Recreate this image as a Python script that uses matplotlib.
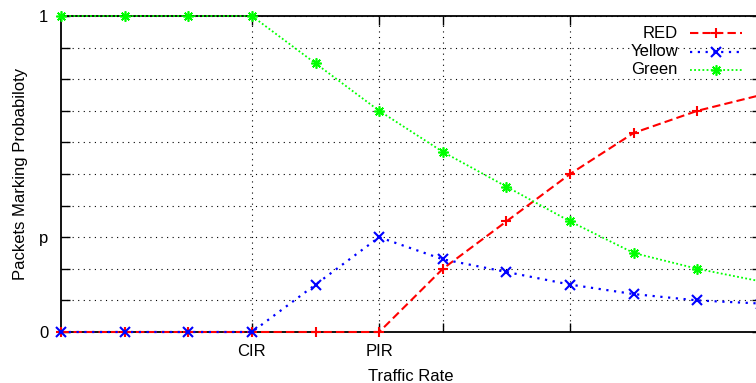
import numpy as np
import matplotlib.pyplot as plt
from matplotlib.lines import Line2D

plt.rcParams['font.family'] = ['Liberation Sans', 'DejaVu Sans']

# traffic rate steps and per-colour marking probability
rate = np.arange(12)
red = [0, 0, 0, 0, 0, 0, 0.20, 0.35, 0.50, 0.63, 0.70, 0.75]
yellow = [0, 0, 0, 0, 0.15, 0.30, 0.23, 0.19, 0.15, 0.12, 0.10, 0.09]
green = [1, 1, 1, 1, 0.85, 0.70, 0.57, 0.46, 0.35, 0.25, 0.20, 0.16]

xticks = [3, 5, 6, 8]
xticklabels = ['CIR', 'PIR', '', '']
yticks = np.arange(0, 1.01, 0.1)
yticklabels = ['0', '', '', 'p', '', '', '', '', '', '', '1']

fig = plt.figure(figsize=(7.56, 3.83), dpi=100)
ax = fig.add_axes([61 / 756, 51 / 383, 700 / 756, 316 / 383])

styles = [
    ('RED', red, '#ff0000', '+', (4, 2), 1.5, 1.5),
    ('Yellow', yellow, '#0000ff', 'x', (1, 2.5), 1.6, 1.5),
    ('Green', green, '#00ff00', (8, 2, 0), (1, 1.3), 1.3, 1.2),
]

for i, (name, vals, col, mk, dash, lw, mew) in enumerate(styles):
    ax.plot(rate, vals, color=col, lw=lw, dashes=dash, marker=mk,
            markersize=7.5, markeredgewidth=mew, clip_on=False, zorder=3 + i)

ax.set_xlim(0, 11)
ax.set_ylim(0, 1)
ax.set_xticks(xticks)
ax.set_xticklabels(xticklabels)
ax.set_yticks(yticks)
ax.set_yticklabels(yticklabels)
ax.tick_params(direction='in', length=6.5, width=1, top=True, right=True,
               labelsize=12, pad=9)
ax.grid(True, color='black', lw=0.8, dashes=(1, 4))
ax.set_axisbelow(True)
for sp in ax.spines.values():
    sp.set_linewidth(1.3)

ax.set_xlabel('Traffic Rate', fontsize=12, labelpad=7)
ax.set_ylabel('Packets Marking Probabiloty', fontsize=12, labelpad=8)

# key in the upper right, text right-aligned before the sample
for i, (name, vals, col, mk, dash, lw, mew) in enumerate(styles):
    yc = 1 - (33 + 18.5 * i) / 383
    fig.text(678 / 756, yc, name, ha='right', va='center', fontsize=12)
    fig.add_artist(Line2D([690 / 756, 742 / 756], [yc, yc], color=col, lw=lw,
                          dashes=dash, transform=fig.transFigure))
    fig.add_artist(Line2D([716 / 756], [yc], color=col, marker=mk,
                          markersize=7.5, markeredgewidth=mew,
                          transform=fig.transFigure))

fig.savefig('out.png', dpi=100)
